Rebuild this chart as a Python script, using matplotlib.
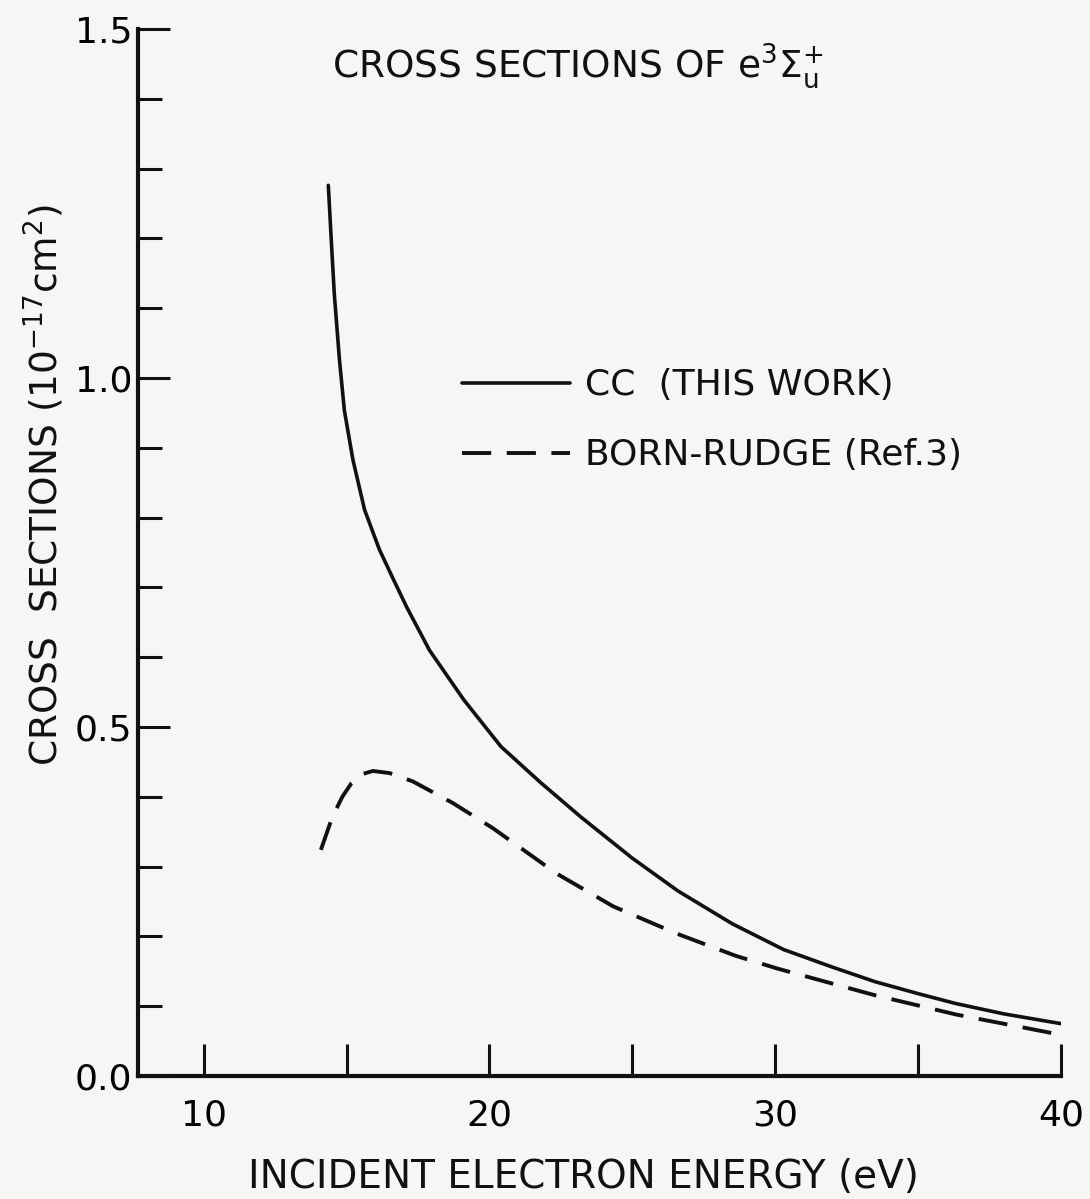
import numpy as np
import matplotlib
matplotlib.use("Agg")
import matplotlib.pyplot as plt
from matplotlib.ticker import MultipleLocator, FixedLocator

# values
cc_energy = [14.36, 14.46, 14.57, 14.75, 14.92, 15.22, 15.63, 16.15, 16.62, 17.10,
             17.90, 19.10, 20.40, 21.80, 23.20, 25.00, 26.60, 28.50, 30.30, 32.00,
             33.50, 35.00, 36.30, 38.00, 40.00]
cc_sigma = [1.276, 1.200, 1.120, 1.026, 0.954, 0.883, 0.811, 0.754, 0.713, 0.672,
            0.610, 0.539, 0.472, 0.420, 0.371, 0.312, 0.265, 0.218, 0.181, 0.156,
            0.135, 0.118, 0.104, 0.089, 0.075]

born_energy = [14.10, 14.50, 14.85, 15.16, 15.50, 15.92, 16.50, 17.32, 18.72, 20.12,
               22.35, 24.33, 26.55, 28.63, 30.07, 33.46, 36.34, 40.00]
born_sigma = [0.324, 0.371, 0.400, 0.419, 0.432, 0.437, 0.434, 0.422, 0.391, 0.355,
              0.290, 0.243, 0.204, 0.172, 0.154, 0.116, 0.088, 0.059]

x_major = [10, 20, 30, 40]
x_minor = [15, 25, 35]
y_major = [0.0, 0.5, 1.0, 1.5]
y_labels = ["0.0", "0.5", "1.0", "1.5"]

ink = "#111111"
paper = "#f6f6f4"

plt.rcParams["font.family"] = ["DejaVu Sans"]
plt.rcParams["mathtext.fontset"] = "dejavusans"

fig = plt.figure(figsize=(10.9, 11.99), dpi=100, facecolor=paper)
ax = fig.add_axes([138 / 1090, 123 / 1199, 923 / 1090, 1047 / 1199])
ax.set_facecolor(paper)

ax.plot(cc_energy, cc_sigma, color=ink, lw=2.6, solid_capstyle="round",
        solid_joinstyle="round", label="CC  (THIS WORK)")
ax.plot(born_energy, born_sigma, color=ink, lw=2.8, linestyle=(0, (7.5, 4.0)),
        label="BORN-RUDGE (Ref.3)")

ax.set_xlim(7.7, 40)
ax.set_ylim(0, 1.5)

for side in ["top", "right"]:
    ax.spines[side].set_visible(False)
for side in ["left", "bottom"]:
    ax.spines[side].set_linewidth(3)
    ax.spines[side].set_color(ink)

ax.xaxis.set_major_locator(FixedLocator(x_major))
ax.xaxis.set_minor_locator(FixedLocator(x_minor))
ax.yaxis.set_major_locator(FixedLocator(y_major))
ax.yaxis.set_minor_locator(MultipleLocator(0.1))
ax.set_yticklabels(y_labels)

ax.tick_params(axis="x", which="both", direction="in", length=23, width=2.2,
               color=ink, labelsize=26, pad=16)
ax.tick_params(axis="y", which="major", direction="in", length=23, width=2.2,
               color=ink, labelsize=26, pad=4)
ax.tick_params(axis="y", which="minor", direction="in", length=17, width=2.2, color=ink)

ax.set_xlabel("INCIDENT ELECTRON ENERGY (eV)", fontsize=28, color=ink)
ax.xaxis.set_label_coords(0.483, -0.078)
ax.xaxis.label.set_va("top")

ax.set_ylabel(r"CROSS  SECTIONS (10$^{-17}$cm$^{2}$)", fontsize=27, color=ink)
ax.yaxis.set_label_coords(-0.078, 0.5645)

ax.text(0.476, 0.965, r"CROSS SECTIONS OF e$^{3}\Sigma_{\mathrm{u}}^{+}$",
        transform=ax.transAxes, ha="center", va="center", fontsize=27, color=ink)

ax.legend(loc="upper left", bbox_to_anchor=(0.3506, 0.676), frameon=False,
          fontsize=26, handlelength=3.0, handletextpad=0.42, labelspacing=1.0,
          borderpad=0, borderaxespad=0, labelcolor=ink)

fig.savefig("out.png", dpi=100, facecolor=paper)
